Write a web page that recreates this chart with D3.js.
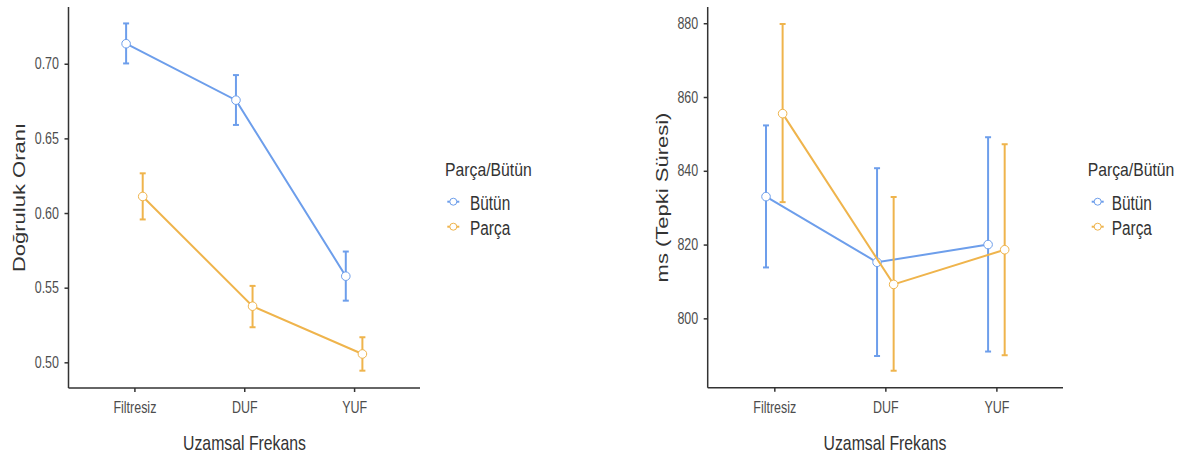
<!DOCTYPE html>
<html><head><meta charset="utf-8">
<script src="https://cdn.jsdelivr.net/npm/d3@7"></script>
<style>
html,body{margin:0;padding:0;background:#fff;}
text{font-family:"Liberation Sans",Arial,sans-serif;}
</style></head>
<body>
<svg id="chart" width="1184" height="457"></svg>
<script>
// ---- data ----
const categories = ["Filtresiz", "DUF", "YUF"];
const seriesNames = ["Bütün", "Parça"];
const legendTitle = "Parça/Bütün";
const xTitle = "Uzamsal Frekans";

// Left panel: accuracy
const accTitle = "Doğruluk Oranı";
const accTicks = [0.50, 0.55, 0.60, 0.65, 0.70];
const accButunMean = [0.7134, 0.6756, 0.5577];
const accButunLow  = [0.7002, 0.6590, 0.5413];
const accButunHigh = [0.7270, 0.6924, 0.5742];
const accParcaMean = [0.6111, 0.5376, 0.5056];
const accParcaLow  = [0.5957, 0.5235, 0.4944];
const accParcaHigh = [0.6266, 0.5512, 0.5168];

// Right panel: reaction time
const rtTitle = "ms (Tepki Süresi)";
const rtTicks = [800, 820, 840, 860, 880];
const rtButunMean = [833.0, 815.2, 820.0];
const rtButunLow  = [813.8, 789.8, 791.0];
const rtButunHigh = [852.3, 840.7, 849.1];
const rtParcaMean = [855.5, 809.2, 818.6];
const rtParcaLow  = [831.5, 785.8, 790.0];
const rtParcaHigh = [879.8, 832.9, 847.2];

const colors = ["#6d9eeb", "#efb44c"];
const svg = d3.select("#chart");
const K = 0.78; // horizontal text compression

function panel(cfg) {
  const g = svg.append("g");
  const x = d3.scalePoint().domain(categories).range([cfg.x0, cfg.x1]).padding(0.6);
  const y = d3.scaleLinear().domain(cfg.yDomain).range([cfg.yBottom, cfg.yTop]);
  const dodge = 8.3;
  const series = [
    {name: seriesNames[0], mean: cfg.bMean, lo: cfg.bLow, hi: cfg.bHigh, off: -dodge, color: colors[0]},
    {name: seriesNames[1], mean: cfg.pMean, lo: cfg.pLow, hi: cfg.pHigh, off: dodge, color: colors[1]}
  ];
  series.forEach(s => {
    const pts = categories.map((c, i) => ({x: x(c) + s.off, m: s.mean[i], lo: s.lo[i], hi: s.hi[i]}));
    // line
    g.append("path").datum(pts)
      .attr("fill", "none").attr("stroke", s.color).attr("stroke-width", 2)
      .attr("d", d3.line().x(d => d.x).y(d => y(d.m)));
    // error bars
    const eb = g.append("g").attr("stroke", s.color).attr("stroke-width", 2);
    eb.selectAll(".v").data(pts).join("line")
      .attr("x1", d => d.x).attr("x2", d => d.x).attr("y1", d => y(d.lo)).attr("y2", d => y(d.hi));
    eb.selectAll(".t").data(pts).join("line")
      .attr("x1", d => d.x - 3).attr("x2", d => d.x + 3).attr("y1", d => y(d.hi)).attr("y2", d => y(d.hi));
    eb.selectAll(".b").data(pts).join("line")
      .attr("x1", d => d.x - 3).attr("x2", d => d.x + 3).attr("y1", d => y(d.lo)).attr("y2", d => y(d.lo));
    g.append("g").selectAll("circle").data(pts).join("circle")
      .attr("cx", d => d.x).attr("cy", d => y(d.m)).attr("r", 4.3)
      .attr("fill", "#fff").attr("stroke", s.color).attr("stroke-width", 1);
  });

  // axes
  const ya = g.append("g").attr("transform", `translate(${cfg.x0},0)`)
    .call(d3.axisLeft(y).tickValues(cfg.ticks).tickFormat(cfg.fmt).tickSize(4).tickSizeOuter(0));
  const xa = g.append("g").attr("transform", `translate(0,${cfg.yBottom})`)
    .call(d3.axisBottom(x).tickSize(4).tickSizeOuter(0));
  [ya, xa].forEach(a => {
    a.select(".domain").attr("stroke", "#333").attr("stroke-width", 1.5);
    a.selectAll(".tick line").attr("stroke", "#333").attr("stroke-width", 1.5);
    a.selectAll(".tick text").attr("fill", "#4d4d4d").attr("font-size", 16)
      .style("font-family", '"Liberation Sans", Arial, sans-serif');
  });
  // extend x domain to full range
  xa.select(".domain").attr("d", `M${cfg.x0},0H${cfg.x1}`);
  ya.select(".domain").attr("d", `M0,${cfg.yBottom}V${cfg.yTop}`);
  ya.selectAll(".tick text").attr("x", -12.2).attr("transform", `scale(${K},1)`);
  xa.selectAll(".tick text").attr("y", 14).attr("transform", `scale(${K},1)`);

  // titles
  g.append("text").attr("transform", `translate(${cfg.xTitleX},450) scale(0.79,1)`)
    .attr("text-anchor", "middle").attr("font-size", 20).attr("fill", "#333").text(xTitle);
  g.append("text").attr("transform", `translate(${cfg.yTitleX},197.5) rotate(-90) scale(1,${K})`)
    .attr("text-anchor", "middle").attr("font-size", 22).attr("fill", "#333").text(cfg.yTitle);

  // legend
  const lg = svg.append("g");
  lg.append("text").attr("transform", `translate(${cfg.legX},176) scale(0.83,1)`)
    .attr("font-size", 19).attr("fill", "#333").text(legendTitle);
  series.forEach((s, i) => {
    const cy = 201.7 + i * 25;
    lg.append("line").attr("x1", cfg.keyX - 6).attr("x2", cfg.keyX + 6).attr("y1", cy).attr("y2", cy)
      .attr("stroke", s.color).attr("stroke-width", 2);
    lg.append("circle").attr("cx", cfg.keyX).attr("cy", cy).attr("r", 3.5)
      .attr("fill", "#fff").attr("stroke", s.color).attr("stroke-width", 1);
    lg.append("text").attr("transform", `translate(${cfg.labX},${cy + 8}) scale(0.77,1)`)
      .attr("font-size", 20).attr("fill", "#333").text(s.name);
  });
}

panel({
  x0: 68.5, x1: 420, yTop: 7, yBottom: 388, yDomain: [0.4828, 0.738],
  ticks: accTicks, fmt: d3.format(".2f"),
  bMean: accButunMean, bLow: accButunLow, bHigh: accButunHigh,
  pMean: accParcaMean, pLow: accParcaLow, pHigh: accParcaHigh,
  yTitle: accTitle, yTitleX: 25, xTitleX: 244.5, legX: 445, keyX: 453.3, labX: 470
});
panel({
  x0: 707.7, x1: 1063, yTop: 7, yBottom: 387.7, yDomain: [781.2, 884.4],
  ticks: rtTicks, fmt: d3.format("d"),
  bMean: rtButunMean, bLow: rtButunLow, bHigh: rtButunHigh,
  pMean: rtParcaMean, pLow: rtParcaLow, pHigh: rtParcaHigh,
  yTitle: rtTitle, yTitleX: 668, xTitleX: 885, legX: 1087.7, keyX: 1097.7, labX: 1111.7
});
</script>
</body></html>
